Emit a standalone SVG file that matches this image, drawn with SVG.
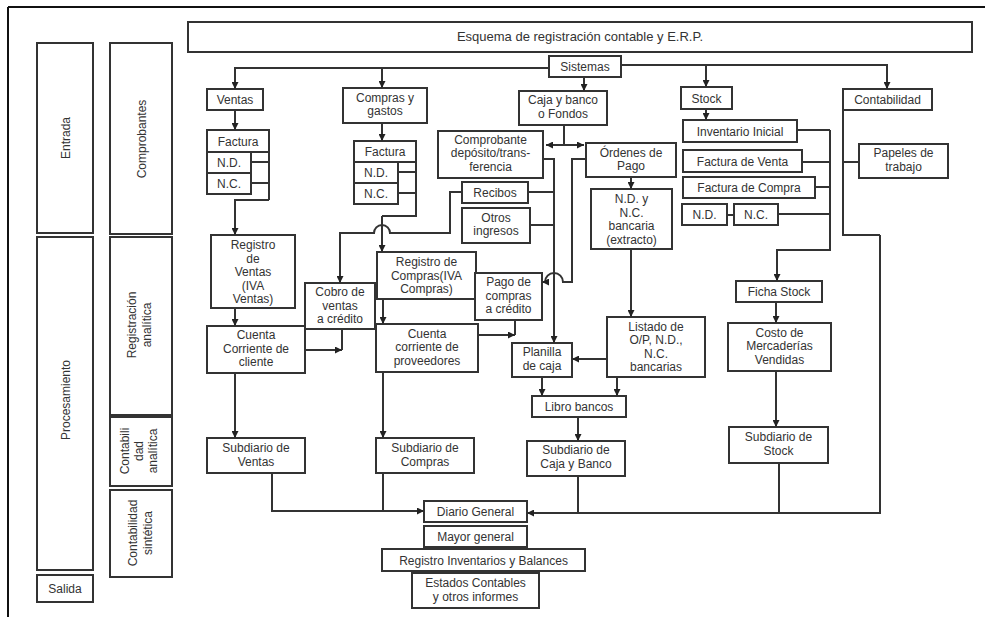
<svg xmlns="http://www.w3.org/2000/svg" width="985" height="617" viewBox="0 0 985 617">
<defs>
<marker id="ah" viewBox="0 0 7 7" refX="7" refY="3.5" markerWidth="7" markerHeight="7" markerUnits="userSpaceOnUse" orient="auto">
<path d="M0,0 L7,3.5 L0,7 z" fill="#222"/>
</marker>
<style>
rect{fill:#fff;stroke:#333;stroke-width:2}
text{font-family:"Liberation Sans",Arial,sans-serif;font-size:12px;fill:#333;text-anchor:middle}
.c path{fill:none;stroke:#333;stroke-width:2}
.a{marker-end:url(#ah)}
</style>
</defs>
<rect x="0" y="0" width="985" height="617" style="fill:#fff;stroke:none"/>
<path d="M8,7 H985 M8,7 V617" style="fill:none;stroke:#111;stroke-width:2"/>

<g id="col-entrada"><rect x="37" y="43" width="56" height="190"/><text transform="translate(69.5,138) rotate(-90)">Entrada</text></g>
<g id="col-procesamiento"><rect x="37" y="237" width="56" height="333"/><text transform="translate(69.5,400) rotate(-90)">Procesamiento</text></g>
<g id="col-salida"><rect x="37" y="575" width="56" height="27"/><text x="65" y="593">Salida</text></g>
<g id="col-comprobantes"><rect x="110" y="43" width="62" height="191"/><text transform="translate(145.5,139) rotate(-90)">Comprobantes</text></g>
<g id="col-reg-analitica"><rect x="110" y="237" width="62" height="178"/><text transform="translate(135.5,325) rotate(-90)">Registración</text><text transform="translate(150.5,325) rotate(-90)">analítica</text></g>
<g id="col-cont-analitica"><rect x="110" y="417" width="62" height="69"/><text transform="translate(128.5,451) rotate(-90)">Contabili</text><text transform="translate(142.5,451) rotate(-90)">dad</text><text transform="translate(156.5,451) rotate(-90)">analítica</text></g>
<g id="col-cont-sintetica"><rect x="110" y="490" width="62" height="87"/><text transform="translate(136.5,533) rotate(-90)">Contabilidad</text><text transform="translate(151.5,533) rotate(-90)">sintética</text></g>

<g id="title"><rect x="188" y="22" width="784" height="30"/><text x="580" y="41" style="font-size:13px">Esquema de registración contable y E.R.P.</text></g>
<g id="sistemas"><rect x="549" y="56" width="72" height="21"/><text x="585" y="71">Sistemas</text></g>
<g id="ventas"><rect x="207" y="89" width="56" height="21"/><text x="235" y="104">Ventas</text></g>
<g id="ventas-factura"><rect x="207" y="130" width="62" height="22"/><text x="238" y="145.5">Factura</text></g>
<g id="ventas-nd"><rect x="207" y="152" width="44" height="21"/><text x="229" y="167">N.D.</text></g>
<g id="ventas-nc"><rect x="207" y="173" width="44" height="21"/><text x="229" y="188">N.C.</text></g>
<g id="compras"><rect x="343" y="88" width="84" height="35"/><text x="385" y="101.5">Compras y</text><text x="385" y="114.5">gastos</text></g>
<g id="compras-factura"><rect x="354" y="141" width="62" height="21"/><text x="385" y="156">Factura</text></g>
<g id="compras-nd"><rect x="354" y="162" width="44" height="21"/><text x="376" y="177">N.D.</text></g>
<g id="compras-nc"><rect x="354" y="183" width="44" height="21"/><text x="376" y="198">N.C.</text></g>
<g id="caja"><rect x="519" y="91" width="88" height="34"/><text x="563" y="103.5">Caja y banco</text><text x="563" y="117.5">o Fondos</text></g>
<g id="comprobante"><rect x="438" y="131" width="105" height="47"/><text x="490.5" y="143.5">Comprobante</text><text x="490.5" y="157">depósito/trans-</text><text x="490.5" y="170.5">ferencia</text></g>
<g id="ordenes"><rect x="586" y="143" width="90" height="34"/><text x="631" y="156.5">Órdenes de</text><text x="631" y="170">Pago</text></g>
<g id="recibos"><rect x="462" y="182" width="66" height="21"/><text x="495" y="197">Recibos</text></g>
<g id="otros"><rect x="462" y="208" width="68" height="35"/><text x="496" y="221.5">Otros</text><text x="496" y="235">ingresos</text></g>
<g id="ndnc-bancaria"><rect x="591" y="189" width="81" height="60"/><text x="631.5" y="203">N.D. y</text><text x="631.5" y="216.5">N.C.</text><text x="631.5" y="230">bancaria</text><text x="631.5" y="243.5">(extracto)</text></g>
<g id="registro-ventas"><rect x="211" y="235" width="84" height="73"/><text x="253" y="249">Registro</text><text x="253" y="262.5">de</text><text x="253" y="276">Ventas</text><text x="253" y="289.5">(IVA</text><text x="253" y="303">Ventas)</text></g>
<g id="cobro"><rect x="305" y="283" width="70" height="46"/><text x="340" y="296">Cobro de</text><text x="340" y="309.5">ventas</text><text x="340" y="323">a crédito</text></g>
<g id="registro-compras"><rect x="377" y="252" width="99" height="47"/><text x="426.5" y="266">Registro de</text><text x="426.5" y="279.5">Compras(IVA</text><text x="426.5" y="293">Compras)</text></g>
<g id="pago"><rect x="475" y="273" width="67" height="47"/><text x="508.5" y="286">Pago de</text><text x="508.5" y="299.5">compras</text><text x="508.5" y="313">a crédito</text></g>
<g id="cc-cliente"><rect x="207" y="326" width="98" height="47"/><text x="256" y="339">Cuenta</text><text x="256" y="352.5">Corriente de</text><text x="256" y="366">cliente</text></g>
<g id="cc-proveedores"><rect x="376" y="324" width="102" height="48"/><text x="427" y="337.5">Cuenta</text><text x="427" y="351">corriente de</text><text x="427" y="364.5">proveedores</text></g>
<g id="listado"><rect x="607" y="317" width="98" height="60"/><text x="656" y="330.5">Listado de</text><text x="656" y="344">O/P, N.D.,</text><text x="656" y="357.5">N.C.</text><text x="656" y="371">bancarias</text></g>
<g id="planilla"><rect x="512" y="343" width="60" height="34"/><text x="542" y="355.5">Planilla</text><text x="542" y="370">de caja</text></g>
<g id="libro-bancos"><rect x="532" y="396" width="94" height="21"/><text x="579" y="411">Libro bancos</text></g>
<g id="sub-ventas"><rect x="207" y="438" width="98" height="35"/><text x="256" y="452">Subdiario de</text><text x="256" y="466">Ventas</text></g>
<g id="sub-compras"><rect x="376" y="438" width="98" height="35"/><text x="425" y="452">Subdiario de</text><text x="425" y="466">Compras</text></g>
<g id="sub-caja"><rect x="527" y="441" width="98" height="35"/><text x="576" y="454">Subdiario de</text><text x="576" y="468">Caja y Banco</text></g>
<g id="diario"><rect x="424" y="501" width="103" height="21"/><text x="475.5" y="516">Diario General</text></g>
<g id="mayor"><rect x="424" y="526" width="103" height="21"/><text x="475.5" y="541">Mayor general</text></g>
<g id="registro-inv"><rect x="382" y="549" width="203" height="22"/><text x="483.5" y="564.5">Registro Inventarios y Balances</text></g>
<g id="estados"><rect x="412" y="573" width="127" height="35"/><text x="475.5" y="587">Estados Contables</text><text x="475.5" y="601">y otros informes</text></g>
<g id="stock"><rect x="681" y="87" width="51" height="22"/><text x="706.5" y="102.5">Stock</text></g>
<g id="contabilidad"><rect x="843" y="89" width="89" height="21"/><text x="887.5" y="104">Contabilidad</text></g>
<g id="inventario"><rect x="683" y="120" width="114" height="22"/><text x="740" y="135.5">Inventario Inicial</text></g>
<g id="fact-venta"><rect x="683" y="150" width="119" height="22"/><text x="742.5" y="165.5">Factura de Venta</text></g>
<g id="fact-compra"><rect x="683" y="177" width="132" height="21"/><text x="749" y="192">Factura de Compra</text></g>
<g id="stock-nd"><rect x="682" y="204" width="45" height="21"/><text x="704.5" y="219">N.D.</text></g>
<g id="stock-nc"><rect x="734" y="204" width="44" height="21"/><text x="756" y="219">N.C.</text></g>
<g id="papeles"><rect x="859" y="144" width="89" height="34"/><text x="903.5" y="156.5">Papeles de</text><text x="903.5" y="170.5">trabajo</text></g>
<g id="ficha"><rect x="736" y="281" width="86" height="21"/><text x="779" y="296">Ficha Stock</text></g>
<g id="costo"><rect x="728" y="323" width="103" height="48"/><text x="779.5" y="336.5">Costo de</text><text x="779.5" y="350">Mercaderías</text><text x="779.5" y="363.5">Vendidas</text></g>
<g id="sub-stock"><rect x="729" y="427" width="99" height="36"/><text x="778.5" y="441">Subdiario de</text><text x="778.5" y="455">Stock</text></g>

<g id="connectors" class="c">
<path d="M549,68 H235 V89" class="a"/>
<path d="M382,68 V88" class="a"/>
<path d="M621,65 H887 V89" class="a"/>
<path d="M706,65 V87" class="a"/>
<path d="M584,77 V91" class="a"/>
<path d="M235,110 V130" class="a"/>
<path d="M251,162 H269 M251,183 H269 M269,152 V200"/>
<path d="M269,200 H235 V235" class="a"/>
<path d="M235,308 V326" class="a"/>
<path d="M235,373 V438" class="a"/>
<path d="M342,329 V350"/>
<path d="M305,350 H342" class="a"/>
<path d="M462,192 H450 V233 H390 A8,8 0 0 0 374,233 H340 V283" class="a"/>
<path d="M382,123 V141" class="a"/>
<path d="M398,172 H416 M398,193 H416 M416,162 V216 H382"/>
<path d="M382,216 V252" class="a"/>
<path d="M383,299 V324" class="a"/>
<path d="M383,372 V438" class="a"/>
<path d="M515,320 V335"/>
<path d="M478,335 H515" class="a"/>
<path d="M564,125 V145"/>
<path d="M564,145 H546" class="a"/>
<path d="M564,145 H584" class="a"/>
<path d="M543,159 H554 V343" class="a"/>
<path d="M528,192 H554 M530,225 H554"/>
<path d="M586,159 H572 V282 H563 A9,9 0 0 0 545,282 H542" class="a"/>
<path d="M631,177 V189" class="a"/>
<path d="M631,249 V317" class="a"/>
<path d="M607,359 H572" class="a"/>
<path d="M542,377 V396" class="a"/>
<path d="M617,377 V396" class="a"/>
<path d="M578,417 V441" class="a"/>
<path d="M272,473 V511 H424" class="a"/>
<path d="M383,473 V511"/>
<path d="M880,235 V513 H527" class="a"/>
<path d="M578,476 V513 M779,463 V513"/>
<path d="M843,110 V235 H880 M843,162 H859"/>
<path d="M706,109 V120" class="a"/>
<path d="M797,130 H830 M802,162 H830 M815,187 H830 M778,214 H830 M727,215 H734"/>
<path d="M830,130 V250 H777 V281" class="a"/>
<path d="M776,302 V323" class="a"/>
<path d="M776,371 V427" class="a"/>
</g>
</svg>
